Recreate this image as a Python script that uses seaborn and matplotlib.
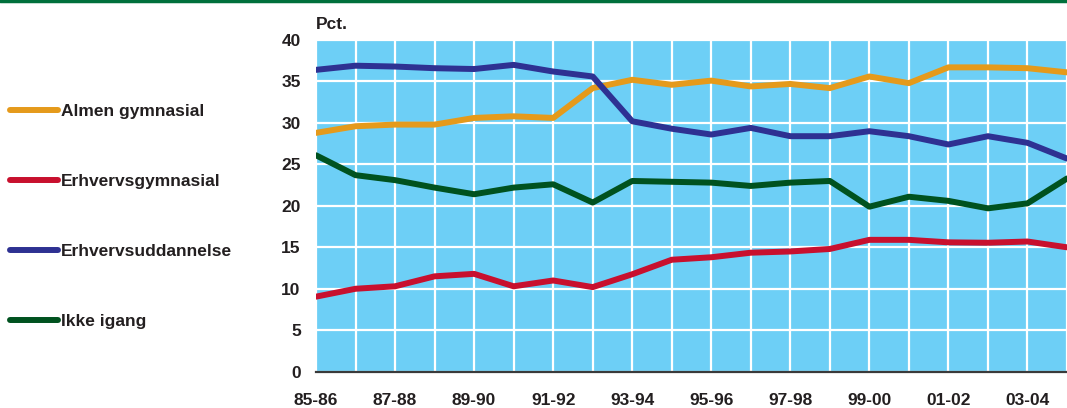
import pandas as pd
import seaborn as sns
import matplotlib.pyplot as plt

aar = ["85-86", "86-87", "87-88", "88-89", "89-90", "90-91", "91-92", "92-93",
       "93-94", "94-95", "95-96", "96-97", "97-98", "98-99", "99-00", "00-01",
       "01-02", "02-03", "03-04", "04-05"]

almen = [28.8, 29.6, 29.8, 29.8, 30.6, 30.8, 30.6, 34.2, 35.2, 34.6,
         35.1, 34.4, 34.7, 34.2, 35.6, 34.8, 36.7, 36.7, 36.6, 36.1]
erhvervsgym = [9.05, 10.0, 10.3, 11.5, 11.8, 10.3, 11.0, 10.2, 11.75, 13.5,
               13.8, 14.35, 14.5, 14.8, 15.9, 15.9, 15.6, 15.55, 15.7, 15.0]
erhvervsudd = [36.4, 36.9, 36.8, 36.6, 36.5, 37.0, 36.2, 35.6, 30.2, 29.3,
               28.6, 29.4, 28.4, 28.4, 29.0, 28.4, 27.4, 28.4, 27.6, 25.7]
ikke_igang = [26.1, 23.7, 23.1, 22.2, 21.4, 22.2, 22.6, 20.4, 23.0, 22.9,
              22.8, 22.4, 22.8, 23.0, 19.9, 21.1, 20.6, 19.7, 20.3, 23.3]

serier = ["Almen gymnasial", "Erhvervsgymnasial", "Erhvervsuddannelse", "Ikke igang"]
farver = ["#e59a1b", "#c8102e", "#2e3192", "#00521f"]

df = pd.DataFrame({"idx": list(range(len(aar))),
                   serier[0]: almen, serier[1]: erhvervsgym,
                   serier[2]: erhvervsudd, serier[3]: ikke_igang})
long_df = df.melt(id_vars="idx", var_name="serie", value_name="pct")

sns.set_style("white")
plt.rcParams['font.family'] = ['Liberation Sans Narrow', 'Liberation Sans', 'DejaVu Sans']
tekst = "#231f20"
fs = 12.5

fig = plt.figure(figsize=(10.67, 4.08), dpi=100)
ax = fig.add_axes([316/1067, 1 - 371.7/408, 1 - 316/1067, (371.7 - 40)/408])
ax.set_facecolor("#6dcff6")

sns.lineplot(data=long_df, x="idx", y="pct", hue="serie", hue_order=serier,
             palette=farver, linewidth=4.3, ax=ax, legend=False)

ax.set_xlim(0, 18.66)
ax.set_ylim(0, 40)
ax.set_xticks(range(len(aar)))
ax.set_xticklabels([a if i % 2 == 0 else "" for i, a in enumerate(aar)])
ax.set_yticks(range(0, 41, 5))
ax.grid(True, color="white", linewidth=1.6)
ax.set_axisbelow(True)
ax.tick_params(length=0, labelsize=fs, colors=tekst)
ax.tick_params(axis='y', pad=11)
ax.tick_params(axis='x', pad=15)
for lbl in ax.get_xticklabels() + ax.get_yticklabels():
    lbl.set_fontweight("bold")
ax.set_xlabel("")
ax.set_ylabel("")
for s in ["top", "right", "left"]:
    ax.spines[s].set_visible(False)
ax.spines["bottom"].set_color("#3a3a3a")
ax.spines["bottom"].set_linewidth(1.6)

ax.text(0, 1.025, "Pct.", transform=ax.transAxes, fontsize=fs,
        fontweight="bold", color=tekst, ha="left", va="bottom")

# legende til venstre
handles = [plt.Line2D([], [], color=c, linewidth=4.3, solid_capstyle="round") for c in farver]
leg = fig.legend(handles, serier, loc="upper left", bbox_to_anchor=(10/1067, 1 - 104/408),
                 frameon=False, fontsize=fs, handlelength=2.75, handletextpad=0.2,
                 labelspacing=3.15, borderpad=0, borderaxespad=0)
for t in leg.get_texts():
    t.set_fontweight("bold")
    t.set_color(tekst)

# grøn linje i toppen
fig.add_artist(plt.Line2D([0, 1], [0.997, 0.997], color="#00703c", linewidth=2.5))

fig.savefig("out.png", dpi=100)
